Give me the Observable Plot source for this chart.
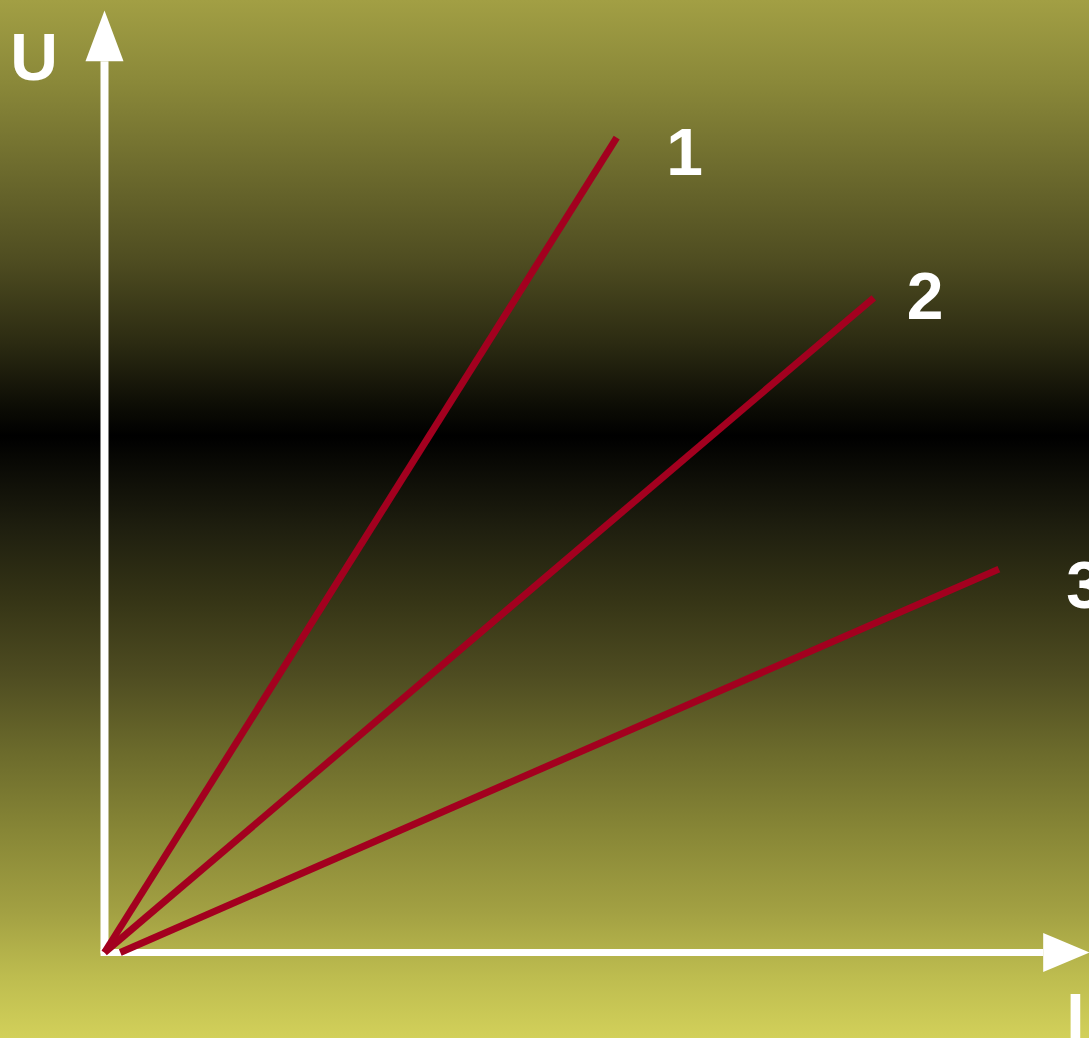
<!DOCTYPE html>
<html>
<head>
<meta charset="utf-8">
<script src="https://cdn.jsdelivr.net/npm/d3@7"></script>
<script src="https://cdn.jsdelivr.net/npm/@observablehq/plot@0.6"></script>
<style>
  html, body { margin: 0; padding: 0; overflow: hidden; background: #000; }
  #chart svg { display: block; }
</style>
</head>
<body>
<div id="chart"></div>
<script>
// Series (lines from origin), in chart units I (x) and U (y)
const series = ["1", "2", "3"];
const startI = [0, 0, 0.16];
const startU = [0, 0, 0];
const endI = [5.20, 7.81, 9.08];
const endU = [8.65, 6.95, 4.07];

// Series labels
const labelText = ["1", "2", "3"];
const labelI = [5.89, 8.33, 9.95];
const labelU = [8.25, 6.73, 3.66];

// Axis titles
const axisTitle = ["U", "I"];
const axisTitleI = [-0.716, 9.858];
const axisTitleU = [9.262, -0.934];

// Axis extents
const axisLines = [
  {x1: 0, y1: -0.01, x2: 0, y2: 9.46},
  {x1: -0.04, y1: 0, x2: 9.53, y2: 0}
];
// Arrowheads (filled triangles)
const arrowHeads = [
  {k: "U", x: -0.193, y: 9.46}, {k: "U", x: 0, y: 10}, {k: "U", x: 0.193, y: 9.46},
  {k: "I", x: 9.53, y: 0.207}, {k: "I", x: 10, y: 0}, {k: "I", x: 9.53, y: -0.207}
];

const lines = series.map((s, i) => ({s, x1: startI[i], y1: startU[i], x2: endI[i], y2: endU[i]}));
const labels = labelText.map((t, i) => ({t, x: labelI[i], y: labelU[i]}));
const titles = axisTitle.map((t, i) => ({t, x: axisTitleI[i], y: axisTitleU[i]}));

const font = "'Liberation Sans', Arial, Helvetica, sans-serif";

const chart = Plot.plot({
  width: 1089,
  height: 1038,
  margin: 0,
  style: {
    background: "linear-gradient(to bottom, #a29f44 0%, #8a8839 8%, #6e6c2e 16%, #4f4d21 25%, #2c2b12 33%, #0d0d05 39%, #000000 42%, #0e0e07 46%, #1f1f0f 51%, #363516 58%, #4e4c21 65%, #6a692b 72%, #878636 80%, #a3a143 88%, #bdbc4f 94%, #d2d05a 100%)",
    fontFamily: font
  },
  x: {domain: [0, 10], range: [104, 1089], axis: null},
  y: {domain: [0, 10], range: [952, 10], axis: null},
  marks: [
    Plot.link(axisLines.slice(0, 1), {x1: "x1", y1: "y1", x2: "x2", y2: "y2", stroke: "white", strokeWidth: 8, strokeLinecap: "butt"}),
    Plot.link(axisLines.slice(1), {x1: "x1", y1: "y1", x2: "x2", y2: "y2", stroke: "white", strokeWidth: 7, strokeLinecap: "butt"}),
    Plot.line(arrowHeads, {x: "x", y: "y", z: "k", fill: "white", stroke: "none"}),
    Plot.link(lines, {x1: "x1", y1: "y1", x2: "x2", y2: "y2", stroke: "#a3001f", strokeWidth: 7, strokeLinecap: "butt"}),
    Plot.text(labels, {x: "x", y: "y", text: "t", fill: "white", fontSize: 66, fontWeight: "bold", textAnchor: "middle", lineAnchor: "bottom", fontFamily: font}),
    Plot.text(titles, {x: "x", y: "y", text: "t", fill: "white", fontSize: 66, fontWeight: "bold", textAnchor: "middle", lineAnchor: "bottom", fontFamily: font})
  ]
});
document.getElementById("chart").appendChild(chart);
</script>
</body>
</html>
